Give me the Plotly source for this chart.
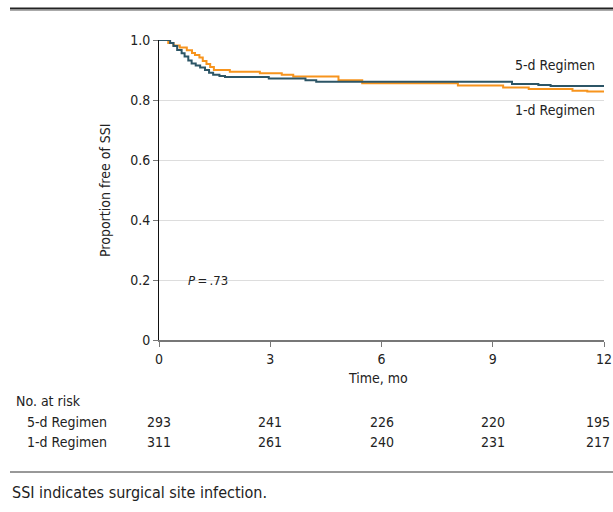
import plotly.graph_objects as go

# ---- data ----
t_5d = [0, 0.3, 0.39, 0.49, 0.61, 0.69, 0.79, 0.88, 0.99, 1.11, 1.24, 1.35, 1.46, 1.63, 1.78, 2.96, 3.95, 4.24, 9.52, 10.23, 10.56, 12]
s_5d = [1.0, 0.99, 0.98, 0.967, 0.956, 0.945, 0.932, 0.922, 0.915, 0.908, 0.9, 0.891, 0.884, 0.88, 0.877, 0.872, 0.866, 0.861, 0.853, 0.85, 0.847, 0.847]

t_1d = [0, 0.25, 0.39, 0.56, 0.75, 0.89, 0.97, 1.09, 1.18, 1.28, 1.38, 1.48, 1.91, 2.72, 3.31, 3.62, 4.84, 5.48, 8.06, 9.28, 9.97, 11.15, 11.55, 12]
s_1d = [1.0, 0.99, 0.982, 0.975, 0.966, 0.957, 0.95, 0.942, 0.93, 0.92, 0.91, 0.9, 0.894, 0.889, 0.884, 0.878, 0.866, 0.856, 0.848, 0.842, 0.837, 0.831, 0.828, 0.828]

risk_times = [0, 3, 6, 9, 12]
risk_5d = [293, 241, 226, 220, 195]
risk_1d = [311, 261, 240, 231, 217]

x_ticks = [0, 3, 6, 9, 12]
y_ticks = [0, 0.2, 0.4, 0.6, 0.8, 1.0]
y_tick_labels = ["0", "0.2", "0.4", "0.6", "0.8", "1.0"]

series_names = ["5-d Regimen", "1-d Regimen"]
p_text = "<i>P</i>\u2009=\u2009.73"
caption = "SSI indicates surgical site infection."

# ---- style / layout ----
W, H = 613, 512
L, R, T, B = 159, 604, 40, 340
FONT = "Liberation Sans Narrow, DejaVu Sans Condensed, sans-serif"
TXT = "#222222"
BLUE = "#2c5566"
ORANGE = "#f7941d"


def px(p):
    return (p - L) / (R - L)


def py(p):
    return (B - p) / (B - T)


fig = go.Figure()
fig.add_trace(go.Scatter(x=t_1d, y=s_1d, mode="lines", line=dict(color=ORANGE, width=2, shape="hv"),
                         name=series_names[1], showlegend=False, cliponaxis=False))
fig.add_trace(go.Scatter(x=t_5d, y=s_5d, mode="lines", line=dict(color=BLUE, width=2, shape="hv"),
                         name=series_names[0], showlegend=False, cliponaxis=False))

fig.update_layout(
    width=W, height=H, autosize=False,
    margin=dict(l=L, r=W - R, t=T, b=H - B, autoexpand=False),
    paper_bgcolor="white", plot_bgcolor="white",
    font=dict(family=FONT, size=13, color=TXT),
    xaxis=dict(range=[0, 12], tickvals=x_ticks, ticks="outside", ticklen=5, tickcolor="#777",
               showline=True, linecolor="#777", linewidth=1.5, showgrid=False, zeroline=False,
               tickfont=dict(size=14, color=TXT), title=None, automargin=False),
    yaxis=dict(range=[0, 1.0], tickvals=y_ticks, ticktext=y_tick_labels, ticks="outside", ticklen=5,
               tickcolor="#777", showline=True, linecolor="#111", linewidth=1, showgrid=True,
               gridcolor="#dddddd", gridwidth=1, zeroline=False, tickfont=dict(size=14, color=TXT),
               title=None, automargin=False),
)

ann = []
# axis titles
ann.append(dict(x=px(378), y=py(378), xref="paper", yref="paper", text="Time, mo", showarrow=False,
                font=dict(size=14, color=TXT), xanchor="center", yanchor="middle"))
ann.append(dict(x=px(105), y=0.5, xref="paper", yref="paper", text="Proportion free of SSI", showarrow=False,
                textangle=-90, font=dict(size=14, color=TXT), xanchor="center", yanchor="middle"))
# series labels
ann.append(dict(x=px(597), y=py(65), xref="paper", yref="paper", text=series_names[0], showarrow=False,
                font=dict(size=14, color=TXT), xanchor="right", yanchor="middle"))
ann.append(dict(x=px(597), y=py(110), xref="paper", yref="paper", text=series_names[1], showarrow=False,
                font=dict(size=14, color=TXT), xanchor="right", yanchor="middle"))
# p value
ann.append(dict(x=px(208), y=py(280), xref="paper", yref="paper", text=p_text, showarrow=False,
                font=dict(size=13, color=TXT), xanchor="center", yanchor="middle"))
# risk table
ann.append(dict(x=px(14), y=py(401), xref="paper", yref="paper", text="No. at risk", showarrow=False,
                font=dict(size=14, color=TXT), xanchor="left", yanchor="middle"))
for lab, vals, yy in [(series_names[0], risk_5d, 422), (series_names[1], risk_1d, 442)]:
    ann.append(dict(x=px(25), y=py(yy), xref="paper", yref="paper", text=lab, showarrow=False,
                    font=dict(size=14, color=TXT), xanchor="left", yanchor="middle"))
    for tt, v in zip(risk_times, vals):
        if tt == risk_times[-1]:
            # keep the last column fully inside the page
            ann.append(dict(x=px(612), y=py(yy), xref="paper", yref="paper", text=str(v), showarrow=False,
                            font=dict(size=14, color=TXT), xanchor="right", yanchor="middle"))
        else:
            ann.append(dict(x=tt, y=py(yy), xref="x", yref="paper", text=str(v), showarrow=False,
                            font=dict(size=14, color=TXT), xanchor="center", yanchor="middle"))
# caption
ann.append(dict(x=px(10), y=py(492), xref="paper", yref="paper", text=caption, showarrow=False,
                font=dict(size=16, color=TXT), xanchor="left", yanchor="middle"))
fig.update_layout(annotations=ann)

shapes = [
    dict(type="line", xref="paper", yref="paper", x0=px(10), x1=px(613), y0=py(8.5), y1=py(8.5),
         line=dict(color="#222", width=2)),
    dict(type="line", xref="paper", yref="paper", x0=px(10), x1=px(613), y0=py(10.5), y1=py(10.5),
         line=dict(color="#aaa", width=1)),
    dict(type="line", xref="paper", yref="paper", x0=px(10), x1=px(613), y0=py(472), y1=py(472),
         line=dict(color="#333", width=1)),
]
fig.update_layout(shapes=shapes)

fig.write_html("out.html", config={"displayModeBar": False, "responsive": False},
               post_script="document.body.style.margin='0';document.body.style.overflow='hidden';")
